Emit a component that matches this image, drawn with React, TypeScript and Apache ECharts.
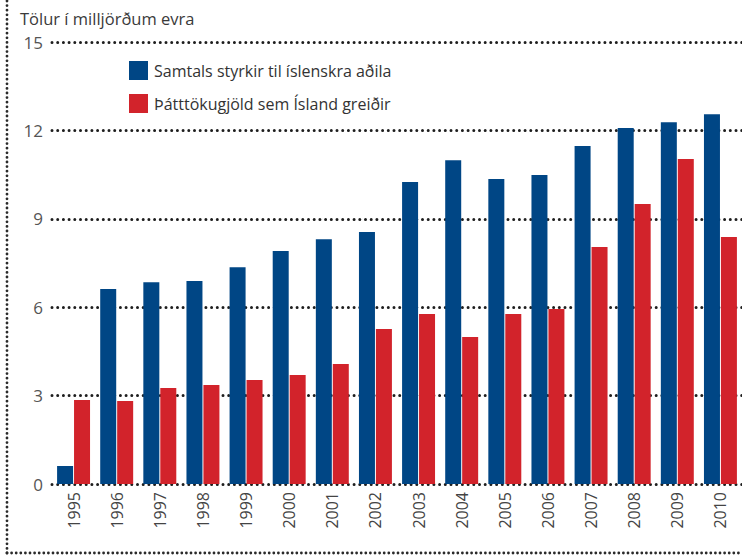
import React, { useEffect, useRef } from "react";
import * as echarts from "echarts";

const years = ["1995","1996","1997","1998","1999","2000","2001","2002","2003","2004","2005","2006","2007","2008","2009","2010"];
const totalGrants = [0.61, 6.62, 6.85, 6.89, 7.36, 7.91, 8.31, 8.55, 10.25, 10.99, 10.35, 10.49, 11.47, 12.08, 12.28, 12.55];
const contributions = [2.85, 2.82, 3.26, 3.36, 3.53, 3.70, 4.07, 5.26, 5.77, 4.99, 5.77, 5.94, 8.04, 9.50, 11.03, 8.38];
const seriesNames = ["Samtals styrkir til íslenskra aðila", "Þátttökugjöld sem Ísland greiðir"];
const yTicks = [0, 3, 6, 9, 12, 15];
const unitLabel = "Tölur í milljörðum evra";

const FONT = "'Open Sans', 'Noto Sans', sans-serif";

export default function App() {
  const ref = useRef<HTMLDivElement>(null);
  useEffect(() => {
    if (!ref.current) return;
    const chart = echarts.init(ref.current, null, { renderer: "svg" });
    const dotted = { lineDash: [0, 4.6], lineCap: "round", lineWidth: 2.8, stroke: "#2a2a2a" };
    chart.setOption({
      animation: false,
      backgroundColor: "#fff",
      textStyle: { fontFamily: FONT },
      title: {
        text: unitLabel,
        left: 15,
        top: 5,
        textStyle: { fontFamily: FONT, fontSize: 16.5, fontWeight: "normal", color: "#3a3a3a" },
      },
      legend: {
        orient: "vertical",
        left: 124,
        top: 56,
        itemWidth: 19,
        itemHeight: 19,
        itemGap: 14,
        icon: "rect",
        textStyle: { fontFamily: FONT, fontSize: 16, color: "#333", padding: [0, 0, 0, 1] },
        data: seriesNames,
      },
      grid: { left: 52, right: 0, top: 42, bottom: 74, containLabel: false },
      xAxis: {
        type: "category",
        data: years,
        axisLine: { show: false },
        axisTick: { show: false },
        axisLabel: {
          rotate: 90,
          margin: 8,
          fontFamily: FONT,
          fontSize: 16,
          color: "#444",
        },
      },
      yAxis: {
        type: "value",
        min: yTicks[0],
        max: yTicks[yTicks.length - 1],
        interval: 3,
        axisLine: { show: false },
        axisTick: { show: false },
        axisLabel: { margin: 9, fontFamily: FONT, fontSize: 17, color: "#555" },
        splitLine: {
          show: true,
          lineStyle: { type: [0, 5.7], cap: "round", width: 3, color: "#1e1e1e" },
        },
      },
      series: [
        {
          name: seriesNames[0],
          type: "bar",
          data: totalGrants,
          barWidth: 16,
          barGap: "6%",
          itemStyle: { color: "#004685" },
        },
        {
          name: seriesNames[1],
          type: "bar",
          data: contributions,
          barWidth: 16,
          itemStyle: { color: "#d2232b" },
        },
      ],
      graphic: [
        { type: "line", shape: { x1: 7, y1: 1, x2: 7, y2: 553 }, style: dotted, silent: true },
        { type: "line", shape: { x1: 7, y1: 553, x2: 742, y2: 553 }, style: dotted, silent: true },
      ],
    });
    return () => chart.dispose();
  }, []);
  return <div ref={ref} style={{ width: 742, height: 558, position: "absolute", left: 0, top: 0 }} />;
}
